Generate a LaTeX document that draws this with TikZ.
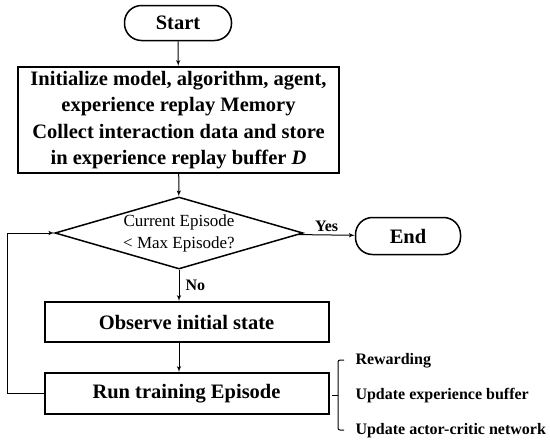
\documentclass[tikz,border=0pt]{standalone}
\usepackage{fontspec}
\setmainfont{Liberation Serif}
\usepackage{tikz}
\usetikzlibrary{shapes,arrows,positioning,calc}

\begin{document}
\begin{tikzpicture}[x=1pt, y=-1pt, >=latex', line width=1pt,
    term/.style={draw, rounded corners=17pt, line width=1.5pt, inner sep=0pt, font=\fontsize{20.5}{24}\selectfont\bfseries},
    stepbox/.style={draw, line width=2pt, inner sep=0pt, align=center, font=\fontsize{20.5}{26.5}\selectfont\bfseries},
    decision/.style={draw, diamond, line width=1.5pt, inner sep=0pt},
    small/.style={font=\fontsize{16}{18}\selectfont\bfseries, inner sep=0pt}]
    \useasboundingbox (0,0) rectangle (550,448);

    \node[term, minimum width=107pt, minimum height=35pt] (start) at (178,23) {Start};
    \node[stepbox, minimum width=321pt, minimum height=106pt] (init) at (178.5,120) {Initialize model, algorithm, agent,\\ experience replay Memory\\ Collect interaction data and store\\ in experience replay buffer \textit{D}};
    \node[decision, minimum width=248pt, minimum height=72pt] (cond) at (179,233) {};
    \node[align=center, inner sep=0pt, font=\fontsize{17}{22}\selectfont] (condtext) at (cond) {Current Episode\\ \textless{} Max Episode?};
    \node[term, minimum width=105pt, minimum height=37pt] (end) at (408,236) {End};
    \node[stepbox, minimum width=284pt, minimum height=40pt] (observe) at (186.5,322) {Observe initial state};
    \node[stepbox, minimum width=284pt, minimum height=41pt] (run) at (186.5,393.5) {Run training Episode};
    \coordinate (back) at (7,393.5);

    \draw[->] (start) -- (init);
    \draw[->] (init) -- (cond);
    \draw[->] (cond) -- node[small, right=6pt] {No} (cond.south |- observe.north);
    \draw[->] (observe.south -| cond.south) -- (run.north -| cond.south);
    \draw[->] (cond) -- node[small, above=3pt] {Yes} (end);
    \draw[->] (run) -- (back) |- (cond);

    % what one episode does
    \node[small, anchor=west] (reward) at (355,361) {Rewarding};
    \node[small, anchor=west] (buffer) at (355,396) {Update experience buffer};
    \node[small, anchor=west] (critic) at (355,431) {Update actor-critic network};
    \draw[rounded corners=2pt] (344,360) -- (338,360) -- (338,430) -- (344,430);
    \draw (332,395) -- (338,395);
\end{tikzpicture}
\end{document}
